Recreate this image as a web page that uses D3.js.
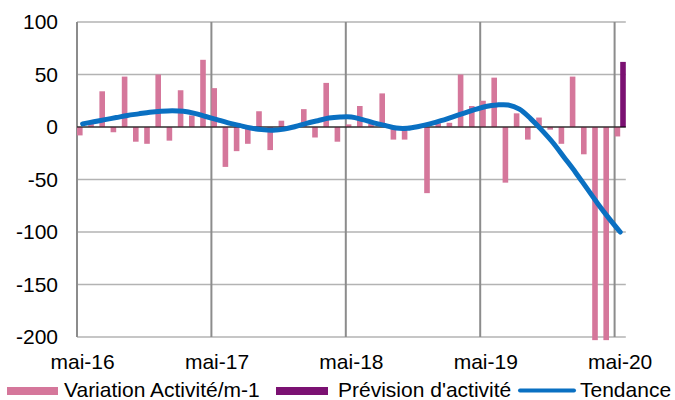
<!DOCTYPE html>
<html><head><meta charset="utf-8">
<script src="https://cdn.jsdelivr.net/npm/d3@7"></script>
<style>body{margin:0;background:#fff}svg{display:block}text{font-family:"Liberation Sans",Arial,sans-serif;fill:#000}</style>
</head><body><svg id="c" width="675" height="400"></svg>
<script>
const monthNames = ["mai","juin","juil","août","sept","oct","nov","déc","janv","févr","mars","avr"];
const startYear = 16;
const nMonths = 49;
const categories = d3.range(nMonths).map(i => monthNames[i % 12] + "-" + (startYear + Math.floor((i + 4) / 12)));
const tickLabels = ["mai-16","mai-17","mai-18","mai-19","mai-20"];
const variation = [-8,3,34,-5,48,-14,-16,50,-13,35,11,64,37,-38,-23,-16,15,-22,6,-2,17,-10,42,-14,2.5,20,3,32,-12,-12,-1,-63,3.5,4,50,20,25,47,-53,13,-12,9,-2.5,-16,48,-26,-203,-203,-9];
const prevision = categories.map((c, i) => i === nMonths - 1 ? 62 : null);
const tendance = [3,5,7,9,11,12.5,14,15,15.5,15,13,10,7,4,1.5,-1,-2.5,-3,-2,0.5,3.5,6,8.5,9.5,9.5,7,4,1.5,-1,-1.2,0.5,3,6,9.5,13,16.5,19.5,21,21,17,8,-3,-15,-29,-43,-58,-73,-87,-100];
const yTicks = [100,50,0,-50,-100,-150,-200];
const FS = 21;

const svg = d3.select("#c");
const x = d3.scaleBand().domain(categories).range([77, 625.8]).paddingInner(0).paddingOuter(0);
const sub = d3.scaleBand().domain(["v","p"]).range([0, x.bandwidth()]);
const y = d3.scaleLinear().domain([-200, 100]).range([337, 22]);

svg.append("g").selectAll("line").data(yTicks).join("line")
  .attr("x1", 77).attr("x2", 625.8).attr("y1", d => y(d)).attr("y2", d => y(d))
  .attr("stroke", "#b3b3b3").attr("stroke-width", 1.5);
const vIdx = d3.range(0, nMonths, 12);
svg.append("g").selectAll("line").data(vIdx).join("line")
  .attr("x1", i => x(categories[i])).attr("x2", i => x(categories[i]))
  .attr("y1", y(100)).attr("y2", y(-200))
  .attr("stroke", "#8c8c8c").attr("stroke-width", 2);

svg.append("g").selectAll("rect").data(variation).join("rect")
  .attr("x", (d, i) => x(categories[i]) + sub("v"))
  .attr("width", sub.bandwidth())
  .attr("y", d => y(Math.max(0, d)))
  .attr("height", d => Math.abs(y(d) - y(0)))
  .attr("fill", "#d5779b");
svg.append("g").selectAll("rect").data(prevision.map((d, i) => [d, i]).filter(e => e[0] !== null)).join("rect")
  .attr("x", e => x(categories[e[1]]) + sub("p"))
  .attr("width", sub.bandwidth())
  .attr("y", e => y(Math.max(0, e[0])))
  .attr("height", e => Math.abs(y(e[0]) - y(0)))
  .attr("fill", "#7b1172");

svg.append("line").attr("x1", 77).attr("x2", 625.8).attr("y1", y(0)).attr("y2", y(0))
  .attr("stroke", "#000").attr("stroke-width", 1);

const line = d3.line().x((d, i) => x(categories[i]) + x.bandwidth() / 2).y(d => y(d)).curve(d3.curveCatmullRom);
svg.append("path").datum(tendance).attr("d", line)
  .attr("fill", "none").attr("stroke", "#0a70c2").attr("stroke-width", 5).attr("stroke-linecap", "round");

svg.append("g").selectAll("text").data(yTicks).join("text")
  .attr("x", 58).attr("y", d => y(d)).attr("dy", "0.35em").attr("text-anchor", "end")
  .attr("font-size", FS).text(d => d);

svg.append("g").selectAll("text").data(tickLabels).join("text")
  .attr("x", d => x(d) + x.bandwidth() / 2).attr("y", 369).attr("text-anchor", "middle")
  .attr("font-size", FS).text(d => d);

const lg = svg.append("g");
lg.append("rect").attr("x", 7).attr("y", 387).attr("width", 51).attr("height", 8).attr("fill", "#d5779b");
lg.append("text").attr("x", 64).attr("y", 397).attr("font-size", FS).text("Variation Activité/m-1");
lg.append("rect").attr("x", 276).attr("y", 387).attr("width", 52).attr("height", 8).attr("fill", "#7b1172");
lg.append("text").attr("x", 338).attr("y", 397).attr("font-size", FS).text("Prévision d'activité");
lg.append("line").attr("x1", 520).attr("x2", 574).attr("y1", 390.5).attr("y2", 390.5)
  .attr("stroke", "#0a70c2").attr("stroke-width", 4).attr("stroke-linecap", "round");
lg.append("text").attr("x", 580).attr("y", 397).attr("font-size", FS).text("Tendance");
</script></body></html>
